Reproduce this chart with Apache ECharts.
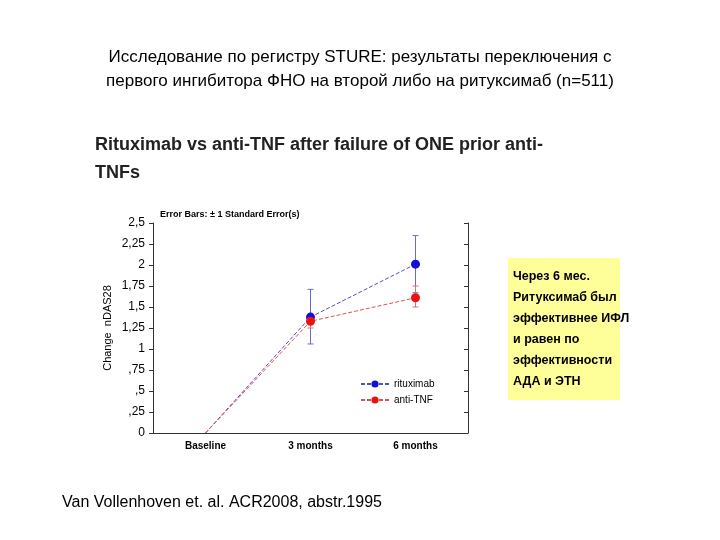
<!DOCTYPE html>
<html style="height: 100%">
<head><meta charset="utf-8"><title>STURE</title></head>
<body style="height: 100%; margin: 0; background: #fff">
<div id="container" style="height: 100%"></div>
<script src="https://cdn.jsdelivr.net/npm/echarts@6/dist/echarts.min.js"></script>
<script>
var categories = ['Baseline', '3 months', '6 months'];
var rituximab = [0, 1.38, 2.01];
var antiTNF = [0, 1.33, 1.61];
// [category index, low, high]
var rituximabErr = [[1, 1.06, 1.71], [2, 1.67, 2.35]];
var antiTNFErr = [[1, 1.25, 1.41], [2, 1.50, 1.75]];

var chart = echarts.init(document.getElementById('container'));
var F = 'Liberation Sans, Arial, sans-serif';

function errSeries(data, color) {
    return {
        type: 'custom', data: data, z: 1, silent: true,
        renderItem: function (params, api) {
            var lo = api.coord([api.value(0), api.value(1)]);
            var hi = api.coord([api.value(0), api.value(2)]);
            var st = { stroke: color, lineWidth: 1 };
            return { type: 'group', children: [
                { type: 'line', shape: { x1: lo[0], y1: lo[1], x2: hi[0], y2: hi[1] }, style: st },
                { type: 'line', shape: { x1: lo[0] - 3, y1: lo[1], x2: lo[0] + 3, y2: lo[1] }, style: st },
                { type: 'line', shape: { x1: hi[0] - 3, y1: hi[1], x2: hi[0] + 3, y2: hi[1] }, style: st }
            ]};
        }
    };
}

// baseline point has no marker
function points(arr) {
    return arr.map(function (v, i) { return i === 0 ? { value: v, symbol: 'none' } : v; });
}

chart.setOption({
    animation: false,
    title: [
        { text: 'Исследование по регистру STURE: результаты переключения с\nпервого ингибитора ФНО на второй либо на ритуксимаб (n=511)',
          left: 'center', top: 40, textStyle: { fontFamily: F, fontSize: 17, fontWeight: 'normal', color: '#000', lineHeight: 24 } },
        { text: 'Rituximab vs anti-TNF after failure of ONE prior anti-\nTNFs', left: 90, top: 126,
          textStyle: { fontFamily: F, fontSize: 18, fontWeight: 'bold', color: '#222', lineHeight: 28 } },
        { text: 'Error Bars: ± 1 Standard Error(s)', left: 155, top: 205,
          textStyle: { fontFamily: F, fontSize: 9, fontWeight: 'bold', color: '#000' } },
        { text: 'Van Vollenhoven et. al. ACR2008, abstr.1995', left: 57, top: 490,
          textStyle: { fontFamily: F, fontSize: 16, fontWeight: 'normal', color: '#000' } }
    ],
    graphic: [{
        type: 'group', left: 508, top: 258, children: [
            { type: 'rect', shape: { width: 112, height: 142 }, style: { fill: '#ffff99' } },
            { type: 'text', left: 5, top: 8, style: { text: 'Через 6 мес.\nРитуксимаб был\nэффективнее ИФЛ\nи равен по\nэффективности\nАДА и ЭТН',
              fill: '#000', font: 'bold 12.5px ' + F, lineHeight: 21 } }
        ]
    }],
    legend: {
        orient: 'vertical', left: 355, top: 374, itemGap: 6, itemWidth: 28, itemHeight: 9,
        textStyle: { fontFamily: F, fontSize: 10, color: '#000' },
        data: ['rituximab', 'anti-TNF']
    },
    grid: { left: 153, right: 252, top: 223, bottom: 107 },
    xAxis: {
        type: 'category', data: categories, boundaryGap: true,
        axisLine: { lineStyle: { color: '#333' } },
        axisTick: { show: false },
        axisLabel: { fontFamily: F, fontSize: 10, fontWeight: 'bold', color: '#000', margin: 8 }
    },
    yAxis: [{
        type: 'value', min: 0, max: 2.5, interval: 0.25,
        name: 'Change  nDAS28', nameLocation: 'middle', nameGap: 40, nameRotate: 90,
        nameTextStyle: { fontFamily: F, fontSize: 11, color: '#000' },
        axisLine: { show: true, lineStyle: { color: '#333' } },
        axisTick: { show: true, inside: false, length: 4 },
        splitLine: { show: false },
        axisLabel: { fontFamily: F, fontSize: 12, color: '#000', formatter: function (v) {
            var s = String(+v.toFixed(2)).replace('.', ',');
            return s.indexOf('0,') === 0 ? s.slice(1) : s;
        } }
    }, {
        type: 'value', min: 0, max: 2.5, interval: 0.25, position: 'right',
        axisLine: { show: true, lineStyle: { color: '#333' } },
        axisTick: { show: true, inside: true, length: 4 },
        axisLabel: { show: false }, splitLine: { show: false }
    }],
    series: [
        errSeries(rituximabErr, '#6a6acc'),
        errSeries(antiTNFErr, '#e07070'),
        { name: 'rituximab', type: 'line', data: points(rituximab), symbol: 'circle', symbolSize: 9, z: 3,
          itemStyle: { color: '#1010dd' }, lineStyle: { color: '#5050c0', width: 1, type: [4, 2] } },
        { name: 'anti-TNF', type: 'line', data: points(antiTNF), symbol: 'circle', symbolSize: 9, z: 3,
          itemStyle: { color: '#ee1111' }, lineStyle: { color: '#e05050', width: 1, type: [4, 2] } }
    ]
});
</script>
</body>
</html>
